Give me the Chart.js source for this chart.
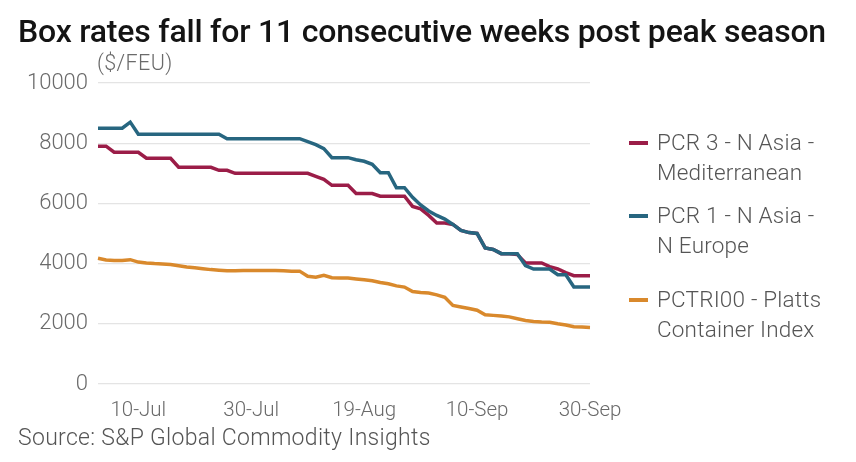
<!DOCTYPE html>
<html>
<head>
<meta charset="utf-8">
<script src="https://cdn.jsdelivr.net/npm/chart.js@4.4.1/dist/chart.umd.min.js"></script>
<style>
  html, body { margin:0; padding:0; background:#fff; }
  #wrap { position:relative; width:856px; height:462px; overflow:hidden; font-family:"Roboto","Liberation Sans",sans-serif; }
  #chart { position:absolute; left:0; top:0; }
  #title { position:absolute; left:18px; top:12px; font-size:32px; font-weight:500; color:#141414; letter-spacing:-0.2px; white-space:nowrap; }
  #unit { position:absolute; left:97px; top:50px; font-size:21.5px; color:#6a6a6a; font-weight:300; letter-spacing:0.4px; }
  #source { position:absolute; left:18px; top:424px; font-size:23px; color:#555; font-weight:300; letter-spacing:0.3px; white-space:nowrap; }
  #legend { position:absolute; left:626px; top:127px; font-size:22.5px; color:#555; font-weight:300; letter-spacing:0.2px; }
  .item { position:relative; padding-left:31px; line-height:30px; }
  .sw { position:absolute; left:3px; top:14px; width:19px; height:4px; }
</style>
</head>
<body>
<div id="wrap">
  <canvas id="chart" width="856" height="462"></canvas>
  <div id="title">Box rates fall for 11 consecutive weeks post peak season</div>
  <div id="unit">($/FEU)</div>
  <div id="legend"></div>
  <div id="source">Source: S&amp;P Global Commodity Insights</div>
</div>
<script>
// Business days (categories)
const dates = [
  "3-Jul","4-Jul","5-Jul","8-Jul","9-Jul","10-Jul","11-Jul","12-Jul","15-Jul","16-Jul",
  "17-Jul","18-Jul","19-Jul","22-Jul","23-Jul","24-Jul","25-Jul","26-Jul","29-Jul","30-Jul",
  "31-Jul","1-Aug","2-Aug","5-Aug","6-Aug","7-Aug","8-Aug","9-Aug","12-Aug","13-Aug",
  "14-Aug","15-Aug","16-Aug","19-Aug","20-Aug","21-Aug","22-Aug","23-Aug","27-Aug","28-Aug",
  "29-Aug","30-Aug","3-Sep","4-Sep","5-Sep","6-Sep","9-Sep","10-Sep","11-Sep","12-Sep",
  "13-Sep","16-Sep","17-Sep","18-Sep","19-Sep","20-Sep","23-Sep","24-Sep","25-Sep","26-Sep",
  "27-Sep","30-Sep"
];
const tickLabels = ["10-Jul","30-Jul","19-Aug","10-Sep","30-Sep"];
const yTicks = [0, 2000, 4000, 6000, 8000, 10000];

const seriesNames = ["PCR 3 - N Asia - Mediterranean", "PCR 1 - N Asia - N Europe", "PCTRI00 - Platts Container Index"];
const legendLines = [["PCR 3 - N Asia -","Mediterranean"],["PCR 1 - N Asia -","N Europe"],["PCTRI00 - Platts","Container Index"]];

const pcr3 = [
  7900,7900,7700,7700,7700,7700,7500,7500,7500,7500,
  7200,7200,7200,7200,7200,7100,7100,7000,7000,7000,
  7000,7000,7000,7000,7000,7000,7000,6900,6800,6600,
  6600,6600,6330,6330,6330,6240,6240,6240,6240,5900,
  5820,5600,5350,5350,5300,5100,5030,5000,4520,4470,
  4330,4330,4300,4020,4020,4020,3900,3820,3700,3600,
  3600,3600
];
const pcr1 = [
  8500,8500,8500,8500,8700,8300,8300,8300,8300,8300,
  8300,8300,8300,8300,8300,8300,8150,8150,8150,8150,
  8150,8150,8150,8150,8150,8150,8050,7950,7820,7520,
  7520,7520,7450,7400,7300,7020,7020,6520,6520,6200,
  5950,5750,5600,5480,5300,5100,5030,5000,4520,4470,
  4330,4330,4330,3930,3820,3820,3820,3630,3630,3220,
  3220,3220
];
const pctri00 = [
  4180,4120,4100,4100,4130,4050,4020,4000,3990,3970,
  3930,3890,3860,3830,3800,3780,3760,3760,3770,3770,
  3770,3770,3770,3760,3750,3750,3580,3550,3610,3530,
  3520,3520,3490,3460,3430,3370,3330,3260,3220,3070,
  3040,3020,2960,2880,2610,2560,2510,2450,2300,2280,
  2260,2230,2170,2110,2080,2060,2050,2000,1960,1900,
  1890,1880
];
const colors = ["#9b1d48", "#276680", "#d9892c"];

// HTML legend
const lg = document.getElementById('legend');
const gaps = [13, 24, 0];
legendLines.forEach((lines, i) => {
  const d = document.createElement('div');
  d.className = 'item';
  d.style.marginBottom = gaps[i] + 'px';
  d.innerHTML = '<span class="sw" style="background:' + colors[i] + '"></span>' + lines.join('<br>');
  lg.appendChild(d);
});

const ds = [pcr3, pcr1, pctri00].map((data, i) => ({
  label: seriesNames[i],
  data: data,
  borderColor: colors[i],
  backgroundColor: colors[i],
  borderWidth: 3.5,
  pointRadius: 0,
  tension: 0,
  order: i === 0 ? 1 : (i === 1 ? 0 : 2)
}));

new Chart(document.getElementById('chart'), {
  type: 'line',
  data: { labels: dates, datasets: ds },
  options: {
    responsive: false,
    animation: false,
    devicePixelRatio: 1,
    layout: { padding: { left: 18, right: 266, top: 83, bottom: 40 } },
    plugins: { legend: { display: false }, tooltip: { enabled: false } },
    scales: {
      x: {
        type: 'category',
        grid: { display: false },
        border: { display: false },
        ticks: {
          autoSkip: false, maxRotation: 0, minRotation: 0,
          color: '#6a6a6a', padding: 7,
          font: { family: 'Roboto', size: 20.5, weight: 300 },
          callback: function(v, i) { const l = dates[i]; return tickLabels.includes(l) ? l : ''; }
        },
        afterFit: s => { s.height = 38; }
      },
      y: {
        min: 0, max: 10000,
        afterBuildTicks: s => { s.ticks = yTicks.map(v => ({ value: v })); },
        grid: { color: '#e4e4e4', lineWidth: 1.2, drawTicks: false },
        border: { display: false },
        ticks: {
          color: '#6a6a6a', padding: 10,
          font: { family: 'Roboto', size: 22, weight: 300 },
          callback: v => String(v)
        },
        afterFit: s => { s.width = 80; }
      }
    }
  }
});
</script>
</body>
</html>
